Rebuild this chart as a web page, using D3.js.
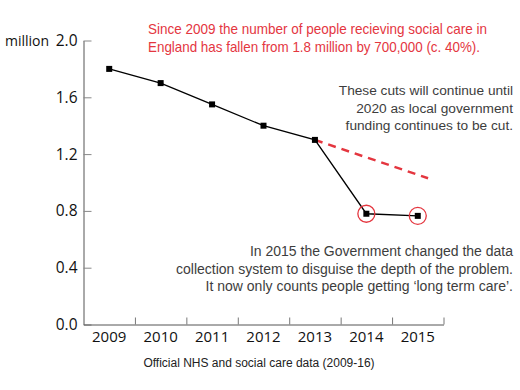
<!DOCTYPE html>
<html><head><meta charset="utf-8">
<script src="https://cdn.jsdelivr.net/npm/d3@7"></script>
<style>body{margin:0;background:#fff}svg{display:block}</style>
</head><body>
<script>
const years = [2009, 2010, 2011, 2012, 2013, 2014, 2015];
const values = [1.8, 1.7, 1.55, 1.4, 1.3, 0.78, 0.765];
const projYears = [2013, 2015.2];
const projValues = [1.3, 1.03];
const circledYears = [2014, 2015];
const yTicks = [0, 0.4, 0.8, 1.2, 1.6, 2.0];
const titleLines = ["Since 2009 the number of people recieving social care in",
  "England has fallen from 1.8 million by 700,000 (c. 40%)."];
const noteRight = ["These cuts will continue until", "2020 as local government", "funding continues to be cut."];
const noteBottom = ["In 2015 the Government changed the data",
  "collection system to disguise the depth of the problem.",
  "It now only counts people getting \u2018long term care\u2019."];
const sourceText = "Official NHS and social care data (2009-16)";
const unitLabel = "million";

const W = 520, H = 390;
const svg = d3.select("body").append("svg").attr("width", W).attr("height", H);
const x = d3.scaleLinear().domain([2008.5, 2015.5]).range([83.5, 443.5]);
const y = d3.scaleLinear().domain([0, 2]).range([324.5, 40.5]);
const red = "#e4363f", gray = "#3d3d3d", axisCol = "#555";
const tickFont = "'Open Sans', sans-serif", textFont = "'Liberation Sans', Arial, sans-serif";

// y axis
const yAx = svg.append("g").attr("transform", `translate(${x(2008.5)},0)`)
  .call(d3.axisLeft(y).tickValues(yTicks).tickFormat(d3.format(".1f")).tickSizeInner(-8).tickSizeOuter(0).tickPadding(6));
yAx.select(".domain").attr("stroke", axisCol);
yAx.selectAll(".tick line").attr("stroke", "#888");
yAx.selectAll("text").attr("font-family", tickFont).attr("font-size", 15.5).attr("fill", "#111");

// x axis
const xAx = svg.append("g").attr("transform", `translate(0,${y(0)})`)
  .call(d3.axisBottom(x).tickValues(d3.range(2009.5, 2016, 1)).tickFormat("").tickSizeInner(-7).tickSizeOuter(0));
xAx.select(".domain").attr("stroke", axisCol);
xAx.selectAll(".tick line").attr("stroke", "#777");
svg.append("g").selectAll("text").data(years).join("text")
  .attr("x", d => x(d)).attr("y", 342).attr("text-anchor", "middle")
  .attr("font-family", tickFont).attr("font-size", 15).attr("fill", "#111").text(d => d);

svg.append("text").attr("x", 5).attr("y", 46).attr("font-family", tickFont)
  .attr("font-size", 14).attr("fill", "#111").text(unitLabel);

// projection dashed
const proj = projYears.map((d, i) => [d, projValues[i]]);
svg.append("path").datum(proj)
  .attr("d", d3.line().x(d => x(d[0])).y(d => y(d[1])))
  .attr("fill", "none").attr("stroke", red).attr("stroke-width", 2.5).attr("stroke-dasharray", "8,6");

// main line
const pts = years.map((d, i) => [d, values[i]]);
svg.append("path").datum(pts)
  .attr("d", d3.line().x(d => x(d[0])).y(d => y(d[1])))
  .attr("fill", "none").attr("stroke", "#000").attr("stroke-width", 1.3);
svg.append("g").selectAll("rect").data(pts).join("rect")
  .attr("x", d => x(d[0]) - 3).attr("y", d => y(d[1]) - 3).attr("width", 6).attr("height", 6).attr("fill", "#000");

svg.append("g").selectAll("circle").data(pts.filter(d => circledYears.includes(d[0]))).join("circle")
  .attr("cx", d => x(d[0])).attr("cy", d => y(d[1])).attr("r", 8.5)
  .attr("fill", "none").attr("stroke", red).attr("stroke-width", 1.3);

// texts
const titleW = [339, 332];
svg.append("g").selectAll("text").data(titleLines).join("text")
  .attr("x", 148).attr("y", (d, i) => 34 + i * 18)
  .attr("textLength", (d, i) => titleW[i]).attr("lengthAdjust", "spacingAndGlyphs")
  .attr("font-family", textFont).attr("font-size", 14.5).attr("fill", red).text(d => d);
svg.append("g").selectAll("text").data(noteRight).join("text")
  .attr("x", 513).attr("y", (d, i) => 95 + i * 17.5).attr("text-anchor", "end")
  .attr("font-family", textFont).attr("font-size", 13.7).attr("fill", gray).text(d => d);
svg.append("g").selectAll("text").data(noteBottom).join("text")
  .attr("x", 513).attr("y", (d, i) => 256 + i * 17.5).attr("text-anchor", "end")
  .attr("font-family", textFont).attr("font-size", 14).attr("fill", gray).text(d => d);
svg.append("text").attr("x", 259).attr("y", 367).attr("text-anchor", "middle")
  .attr("font-family", textFont).attr("font-size", 12).attr("fill", "#222").text(sourceText);
</script>
</body></html>
